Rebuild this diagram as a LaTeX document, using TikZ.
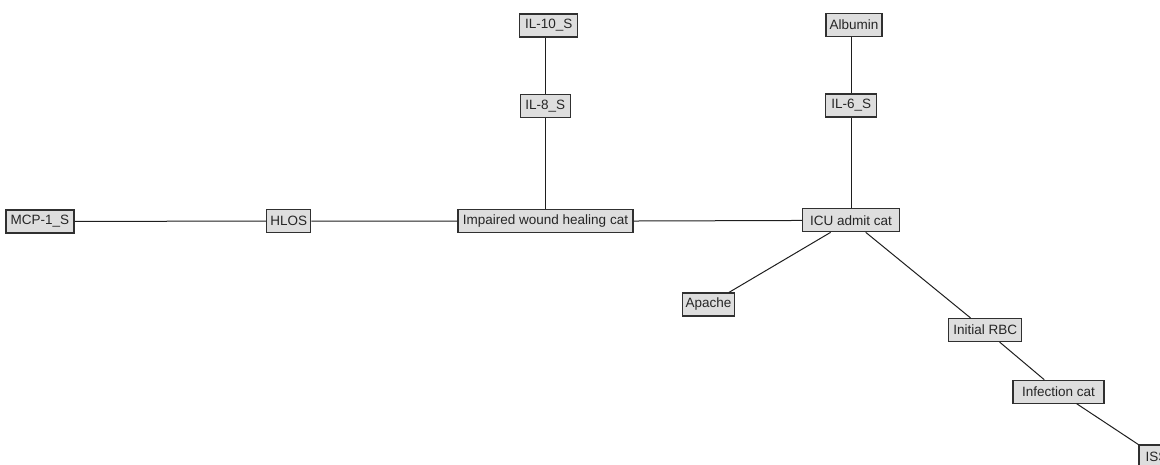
\documentclass[tikz,border=0pt]{standalone}
\usepackage{fontspec}
\setmainfont{Liberation Sans}
\definecolor{boxfill}{HTML}{DEDEDE}
\definecolor{boxdraw}{HTML}{303030}
\definecolor{edgecol}{HTML}{1E1E1E}
\begin{document}
\begin{tikzpicture}[x=1pt,y=-1pt,
  vbox/.style={draw=boxdraw,fill=boxfill,line width=1.1pt,minimum height=23pt,inner xsep=3pt,inner ysep=0pt,font=\fontsize{13.5}{15}\selectfont,text=black!85},
  edge/.style={draw=edgecol,line width=1pt}]
\useasboundingbox (0,0) rectangle (1160,464);
\clip (0,0) rectangle (1160,464);
\node[vbox,minimum width=68pt] (mcp) at (40,221.5) {MCP-1\_S};
\node[vbox,minimum width=44pt] (hlos) at (288.7,221) {HLOS};
\node[vbox,minimum width=175pt] (iwh) at (545.5,221.3) {Impaired wound healing cat};
\node[vbox,minimum width=50pt] (il8) at (545.3,105.7) {IL-8\_S};
\node[vbox,minimum width=58pt] (il10) at (548.8,25.5) {IL-10\_S};
\node[vbox,minimum width=56pt] (alb) at (854,25) {Albumin};
\node[vbox,minimum width=51pt] (il6) at (851.3,105.5) {IL-6\_S};
\node[vbox,minimum width=97pt] (icu) at (851,220.3) {ICU admit cat};
\node[vbox,minimum width=51pt] (apache) at (708.5,304.5) {Apache};
\node[vbox,minimum width=73pt] (rbc) at (985.3,330) {Initial RBC};
\node[vbox,minimum width=91pt] (inf) at (1058.5,391.7) {Infection cat};
\node[vbox,minimum width=35pt] (iss) at (1156.5,456.5) {ISS};
\draw[edge] (mcp) -- (hlos);
\draw[edge] (hlos) -- (iwh);
\draw[edge] (iwh) -- (icu);
\draw[edge] (iwh.north -| il8.north) -- (il8);
\draw[edge] (il8.north) -- (il8.north |- il10.south);
\draw[edge] (icu.north -| il6.north) -- (il6);
\draw[edge] (il6.north) -- (il6.north |- alb.south);
\draw[edge] (icu) -- (apache);
\draw[edge] (icu) -- (rbc);
\draw[edge] (rbc) -- (inf);
\draw[edge] (inf) -- (iss);
\end{tikzpicture}
\end{document}
